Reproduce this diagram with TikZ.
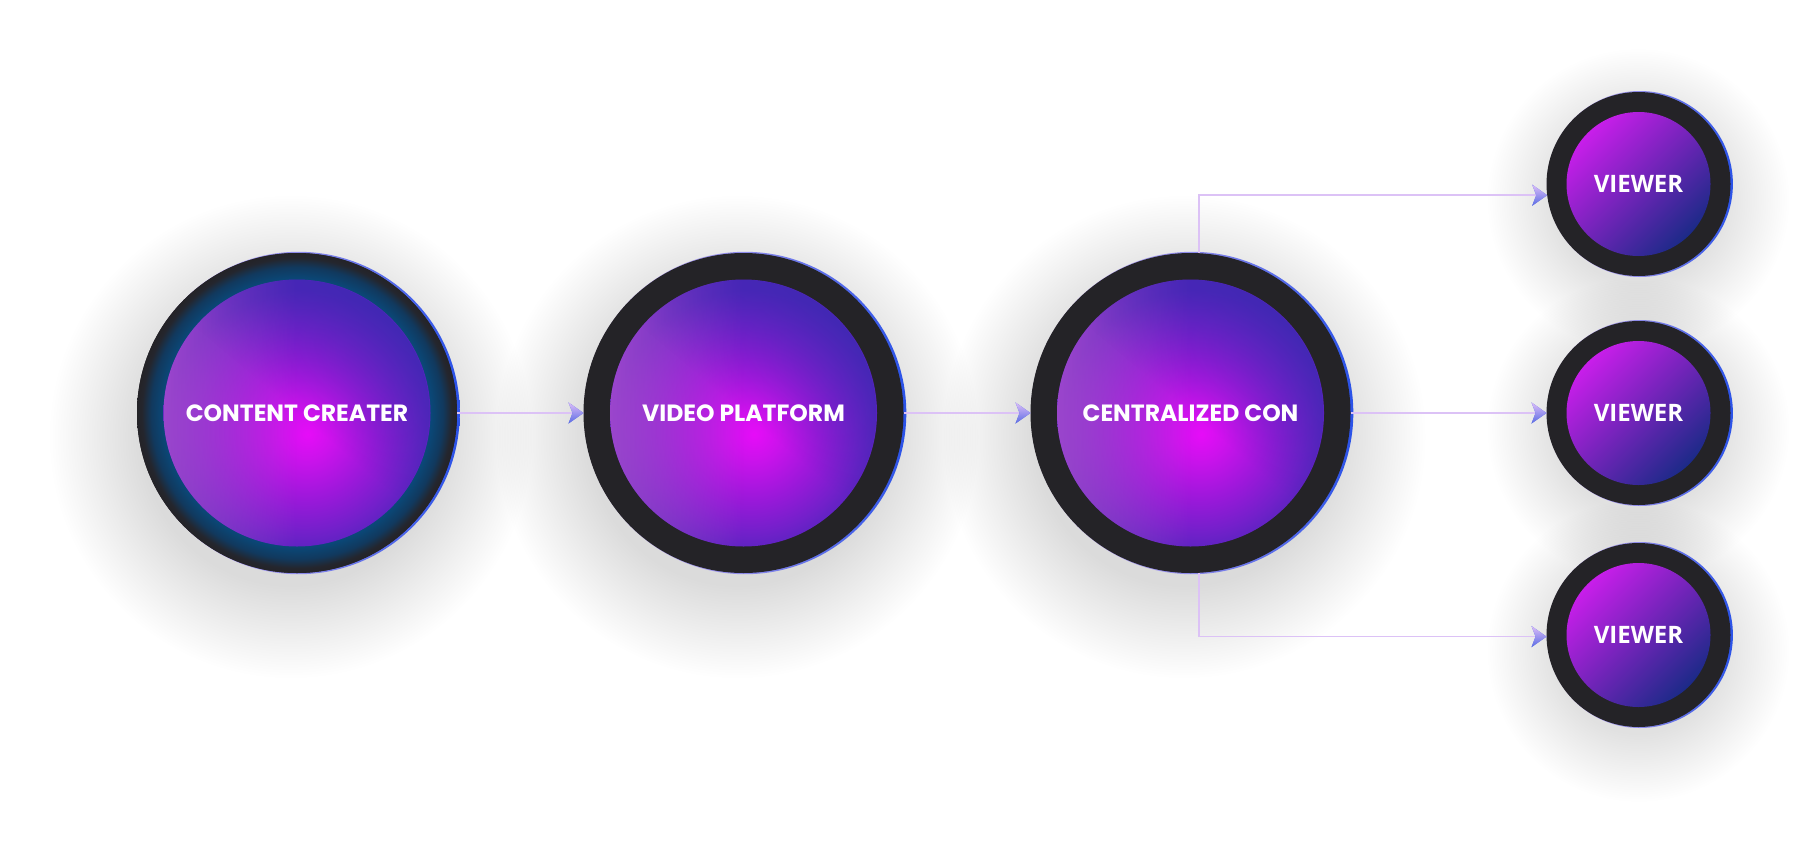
\documentclass[tikz,border=0pt]{standalone}
\usepackage{fontspec}
\setmainfont{Poppins}
\newfontfamily\viewfont{Open Sans}
\usetikzlibrary{arrows.meta,fadings,calc}

\definecolor{ringdark}{HTML}{242327}
\definecolor{m0}{HTML}{E60CF8}
\definecolor{m1}{HTML}{CC12EC}
\definecolor{m2}{HTML}{9C18DA}
\definecolor{m3}{HTML}{7220CA}
\definecolor{m4}{HTML}{5224BC}
\definecolor{g0}{HTML}{0A4878}
\definecolor{g1}{HTML}{11395E}
\definecolor{g2}{HTML}{24262E}
\definecolor{lav}{HTML}{CCAEEC}
\definecolor{bblue}{HTML}{2A52E8}
\definecolor{conn}{HTML}{DCC2F6}
\definecolor{tipA}{HTML}{DCBCF8}
\definecolor{tipB}{HTML}{5A6CE4}
\definecolor{vA}{HTML}{C81EEA}
\definecolor{vM}{HTML}{5A2CCC}
\definecolor{vB}{HTML}{1C2A88}
\definecolor{lavpink}{HTML}{C458D6}
\definecolor{topblue}{HTML}{3A2AB0}

\pgfdeclareradialshading{discfill}{\pgfpoint{2bp}{-4bp}}{color(0bp)=(m0); color(5bp)=(m1); color(13bp)=(m2); color(20bp)=(m3); color(25bp)=(m4); color(50bp)=(m4)}
\pgfdeclareradialshading{glowring}{\pgfpointorigin}{color(0bp)=(g0); color(20.9bp)=(g0); color(22.8bp)=(g1); color(24.2bp)=(g2); color(25bp)=(ringdark); color(50bp)=(ringdark)}

\tikzfading[name=lefttint, left color=transparent!35, right color=transparent!100, middle color=transparent!100]
\tikzfading[name=toptint, top color=transparent!35, bottom color=transparent!100, middle color=transparent!100]

\pgfdeclarelayer{shadowlayer}
\pgfdeclarelayer{disclayer}
\pgfsetlayers{shadowlayer,disclayer,main}

\newcommand\bigdisc[2]{%
  \begin{pgfonlayer}{shadowlayer}
    \foreach \k in {0,...,35}{\fill[black,opacity=0.003] ([xshift=-6pt,yshift=-24pt]#1.center) circle[radius={(150+\k*2.6)*1pt}];}
  \end{pgfonlayer}
  \begin{pgfonlayer}{disclayer}
    \shade[left color=lav, right color=bblue, middle color=lav!60!bblue] ([xshift=1.6pt]#1.center) circle[radius=161.2pt];
    \fill[ringdark] (#1.center) circle[radius=160pt];
    \ifnum#2=1 \shade[shading=glowring] (#1.center) circle[radius=160pt];\fi
    \shade[shading=discfill] (#1.center) circle[radius=133.5pt];
    \fill[lavpink, path fading=lefttint] (#1.center) circle[radius=133.5pt];
    \fill[topblue, path fading=toptint, fading transform={rotate=-40}] (#1.center) circle[radius=133.5pt];
  \end{pgfonlayer}}

\newcommand\smalldisc[1]{%
  \begin{pgfonlayer}{shadowlayer}
    \foreach \k in {0,...,29}{\fill[black,opacity=0.003] ([yshift=-16pt]#1.center) circle[radius={(84+\k*2.3)*1pt}];}
  \end{pgfonlayer}
  \begin{pgfonlayer}{disclayer}
    \shade[left color=lav, right color=bblue, middle color=lav!60!bblue] ([xshift=1.4pt]#1.center) circle[radius=93pt];
    \fill[ringdark] (#1.center) circle[radius=92pt];
    \shade[top color=vA, middle color=vM, bottom color=vB, shading angle=45] (#1.center) circle[radius=72pt];
  \end{pgfonlayer}}

\begin{document}
\begin{tikzpicture}[x=1pt,y=-1pt,
  bigc/.style={circle, minimum size=320pt, inner sep=0pt, outer sep=0pt, text=white,
    font=\fontsize{23.5pt}{28pt}\selectfont\bfseries},
  smallc/.style={circle, minimum size=184pt, inner sep=0pt, outer sep=0pt, text=white,
    font=\viewfont\fontsize{24pt}{28pt}\selectfont\bfseries},
  link/.style={draw=conn, line width=1.6pt, -{Stealth[length=15pt,width=21pt,inset=4pt,color=tipB]}},
  gtip/.pic={\shade[top color=tipA, bottom color=tipB] (0,0) -- (-15,-10.5) -- (-11,0) -- (-15,10.5) -- cycle;}]
\useasboundingbox (0,0) rectangle (1806,854);
\begin{pgfonlayer}{shadowlayer}
  \fill[white] (0,0) rectangle (1806,854);
\end{pgfonlayer}

\node[bigc] (cc)  at (297,413)    {CONTENT CREATER};
\node[bigc] (vp)  at (743.5,413)  {VIDEO PLATFORM};
\node[bigc] (cen) at (1190.5,413) {CENTRALIZED CON};
\node[smallc] (v1) at (1638.5,184) {VIEWER};
\node[smallc] (v2) at (1638.5,413) {VIEWER};
\node[smallc] (v3) at (1638.5,635) {VIEWER};

\bigdisc{cc}{1}
\bigdisc{vp}{0}
\bigdisc{cen}{0}
\smalldisc{v1}
\smalldisc{v2}
\smalldisc{v3}

\draw[link] (cc.east) -- (vp.west);
\draw[link] (vp.east) -- (cen.west);
\draw[link] (cen.east) -- (v2.west);
\draw[link] (cen.87) |- (v1.187);
\draw[link] (cen.273) |- (v3.181);

\pic at (vp.west) {gtip};
\pic at (cen.west) {gtip};
\pic at (v2.west) {gtip};
\pic at (v1.187) {gtip};
\pic at (v3.181) {gtip};
\end{tikzpicture}
\end{document}
